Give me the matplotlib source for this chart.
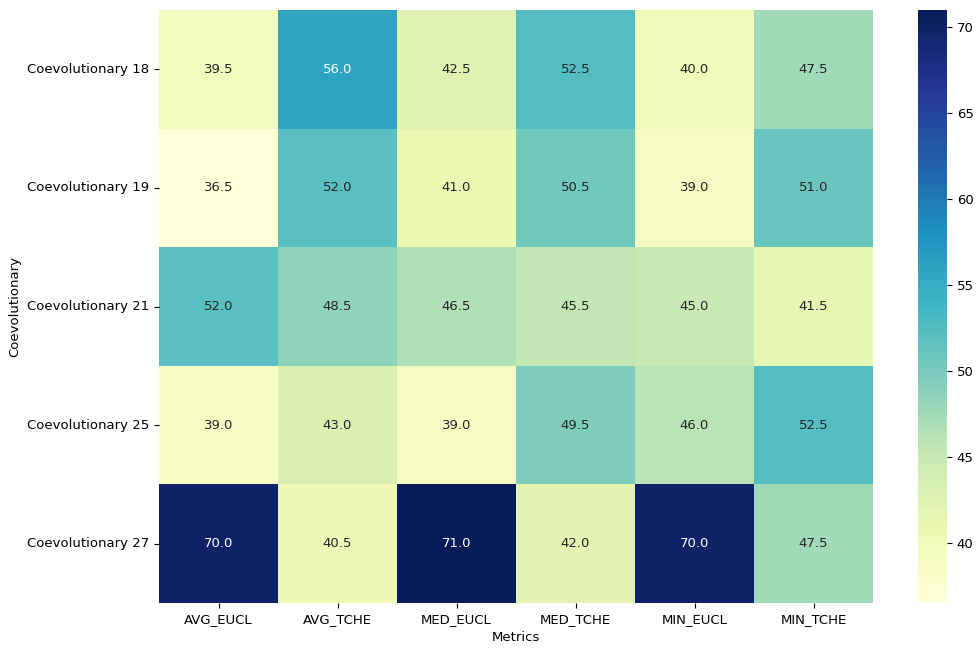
import matplotlib
matplotlib.use("Agg")
import matplotlib.pyplot as plt
import numpy as np
import pandas as pd
import seaborn as sns

rows = ["Coevolutionary 18", "Coevolutionary 19", "Coevolutionary 21",
        "Coevolutionary 25", "Coevolutionary 27"]
metrics = ["AVG_EUCL", "AVG_TCHE", "MED_EUCL", "MED_TCHE", "MIN_EUCL", "MIN_TCHE"]

coev_18 = [39.5, 56.0, 42.5, 52.5, 40.0, 47.5]
coev_19 = [36.5, 52.0, 41.0, 50.5, 39.0, 51.0]
coev_21 = [52.0, 48.5, 46.5, 45.5, 45.0, 41.5]
coev_25 = [39.0, 43.0, 39.0, 49.5, 46.0, 52.5]
coev_27 = [70.0, 40.5, 71.0, 42.0, 70.0, 47.5]

df = pd.DataFrame([coev_18, coev_19, coev_21, coev_25, coev_27],
                  index=rows, columns=metrics)
df.index.name = "Coevolutionary"
df.columns.name = "Metrics"

fs = 9.5
fig = plt.figure(figsize=(9.77, 6.48), dpi=100)
ax = fig.add_axes([159 / 977, 1 - 603 / 648, (873 - 159) / 977, (603 - 10) / 648])
cax = fig.add_axes([918 / 977, 1 - 603 / 648, (947 - 918) / 977, (603 - 10) / 648])

sns.heatmap(df, annot=True, fmt=".1f", cmap="YlGnBu", ax=ax, cbar_ax=cax,
            annot_kws={"fontsize": fs})
ax.tick_params(labelsize=fs)
ax.set_yticklabels(rows, rotation=0)
ax.set_xlabel("Metrics", fontsize=fs)
ax.set_ylabel("Coevolutionary", fontsize=fs)
cax.tick_params(labelsize=fs)

fig.savefig("out.png", dpi=100)
